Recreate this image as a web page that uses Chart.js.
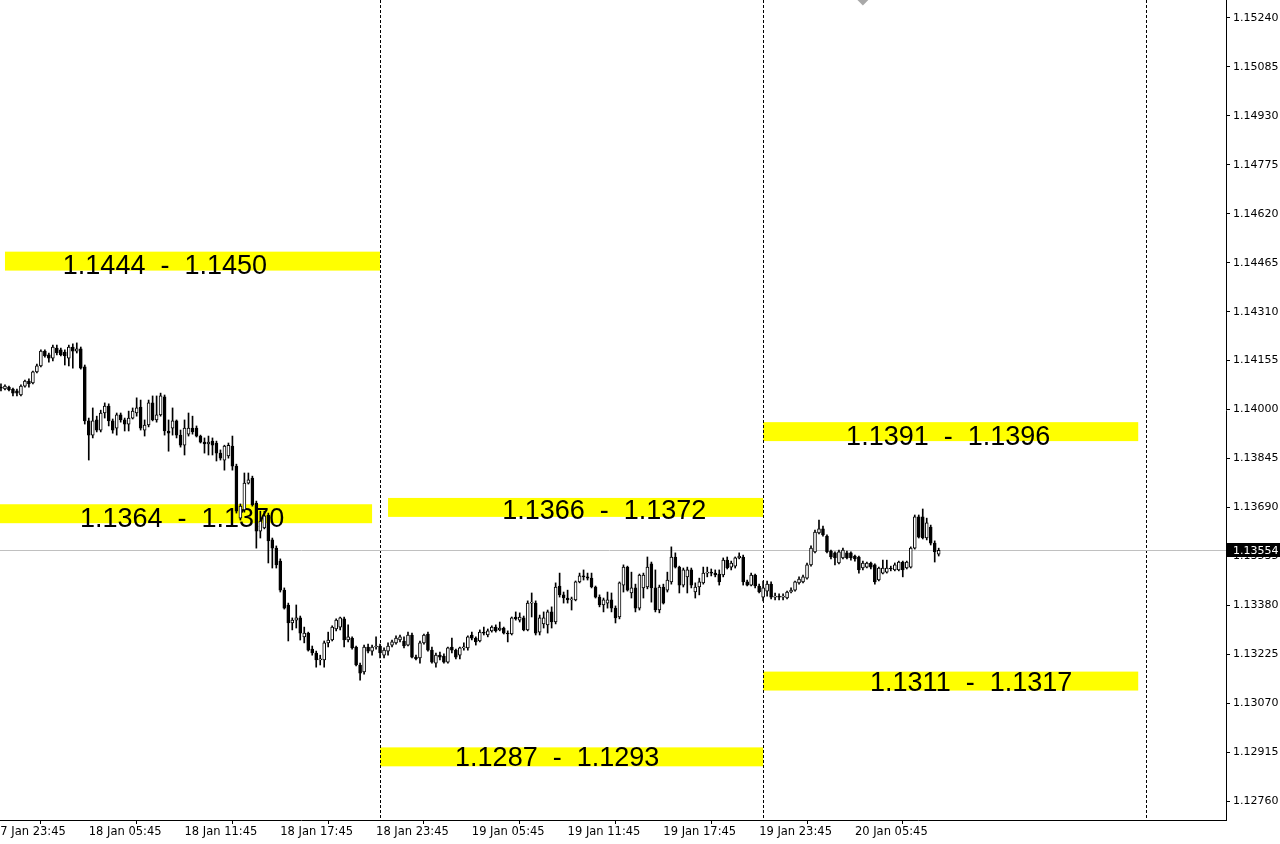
<!DOCTYPE html>
<html>
<head>
<meta charset="utf-8">
<title>EURUSD M15</title>
<script src="https://cdn.jsdelivr.net/npm/chart.js@4.4.1/dist/chart.umd.min.js"></script>
<style>
  html, body { margin: 0; padding: 0; background: #fff; overflow: hidden; }
  #wrap { position: relative; width: 1280px; height: 844px; overflow: hidden; }
  #chart { position: absolute; left: -7px; top: 0; }
</style>
</head>
<body>
<div id="wrap"><canvas id="chart" width="1287" height="844"></canvas></div>
<script>
// 15 minute bars, index 0 = 17 Jan 23:45
var opens = [
  1.14068,1.14071,1.14071,1.14065,1.14071,1.14065,1.14059,1.14046,1.14074,1.14090,
  1.14084,1.14119,1.14138,1.14185,1.14173,1.14163,1.14195,1.14189,1.14182,1.14163,
  1.14198,1.14185,1.14192,1.14135,1.13964,1.13919,1.13967,1.13935,1.13989,1.14011,
  1.13964,1.13941,1.13983,1.13967,1.13954,1.13973,1.13989,1.14008,1.13935,1.13951,
  1.14021,1.13967,1.13983,1.14040,1.13932,1.13941,1.13964,1.13919,1.13887,1.13922,
  1.13941,1.13941,1.13916,1.13897,1.13891,1.13900,1.13894,1.13862,1.13840,1.13853,
  1.13884,1.13821,1.13656,1.13682,1.13767,1.13783,1.13704,1.13615,1.13625,1.13666,
  1.13587,1.13561,1.13520,1.13428,1.13381,1.13324,1.13333,1.13340,1.13280,1.13292,
  1.13241,1.13229,1.13207,1.13207,1.13261,1.13270,1.13305,1.13311,1.13337,1.13270,
  1.13276,1.13248,1.13191,1.13169,1.13248,1.13235,1.13248,1.13251,1.13222,1.13235,
  1.13254,1.13261,1.13270,1.13267,1.13254,1.13286,1.13216,1.13213,1.13261,1.13289,
  1.13238,1.13197,1.13222,1.13219,1.13200,1.13248,1.13238,1.13222,1.13245,1.13245,
  1.13286,1.13276,1.13267,1.13295,1.13286,1.13299,1.13311,1.13302,1.13308,1.13292,
  1.13289,1.13343,1.13333,1.13340,1.13302,1.13387,1.13387,1.13295,1.13321,1.13318,
  1.13359,1.13327,1.13441,1.13413,1.13403,1.13397,1.13397,1.13454,1.13473,1.13470,
  1.13466,1.13438,1.13406,1.13381,1.13387,1.13397,1.13371,1.13343,1.13444,1.13501,
  1.13419,1.13435,1.13371,1.13435,1.13438,1.13511,1.13435,1.13365,1.13438,1.13428,
  1.13454,1.13533,1.13501,1.13444,1.13470,1.13492,1.13422,1.13438,1.13451,1.13482,
  1.13485,1.13482,1.13479,1.13476,1.13523,1.13501,1.13504,1.13530,1.13533,1.13454,
  1.13444,1.13476,1.13441,1.13406,1.13425,1.13447,1.13406,1.13409,1.13406,1.13403,
  1.13422,1.13428,1.13451,1.13454,1.13466,1.13508,1.13549,1.13609,1.13622,1.13599,
  1.13552,1.13546,1.13514,1.13530,1.13546,1.13546,1.13536,1.13533,1.13498,1.13501,
  1.13514,1.13508,1.13460,1.13482,1.13485,1.13498,1.13492,1.13492,1.13517,1.13498,
  1.13501,1.13561,1.13660,1.13660,1.13593,1.13628,1.13577,1.13542
];
var highs = [
  1.14078,1.14078,1.14081,1.14078,1.14074,1.14068,1.14065,1.14078,1.14093,1.14097,
  1.14122,1.14144,1.14189,1.14189,1.14179,1.14204,1.14204,1.14195,1.14189,1.14204,
  1.14208,1.14211,1.14198,1.14141,1.13973,1.14005,1.13979,1.13998,1.14021,1.14018,
  1.13970,1.13989,1.13989,1.13973,1.13995,1.14005,1.14037,1.14030,1.13967,1.14030,
  1.14043,1.14043,1.14052,1.14046,1.13967,1.14005,1.13967,1.13935,1.13967,1.13989,
  1.13979,1.13948,1.13919,1.13910,1.13916,1.13910,1.13900,1.13872,1.13887,1.13894,
  1.13916,1.13827,1.13701,1.13799,1.13799,1.13789,1.13710,1.13678,1.13678,1.13672,
  1.13593,1.13568,1.13527,1.13435,1.13387,1.13340,1.13381,1.13346,1.13311,1.13295,
  1.13251,1.13235,1.13222,1.13267,1.13295,1.13315,1.13337,1.13343,1.13343,1.13318,
  1.13280,1.13251,1.13197,1.13254,1.13257,1.13254,1.13280,1.13257,1.13245,1.13261,
  1.13270,1.13283,1.13286,1.13280,1.13295,1.13292,1.13222,1.13267,1.13289,1.13295,
  1.13248,1.13229,1.13232,1.13226,1.13248,1.13276,1.13241,1.13248,1.13261,1.13283,
  1.13295,1.13280,1.13302,1.13311,1.13305,1.13315,1.13318,1.13327,1.13311,1.13299,
  1.13343,1.13359,1.13356,1.13346,1.13394,1.13419,1.13394,1.13349,1.13359,1.13365,
  1.13375,1.13451,1.13482,1.13422,1.13428,1.13406,1.13457,1.13482,1.13492,1.13482,
  1.13482,1.13441,1.13413,1.13403,1.13422,1.13419,1.13378,1.13454,1.13508,1.13504,
  1.13485,1.13447,1.13479,1.13482,1.13533,1.13517,1.13492,1.13444,1.13447,1.13485,
  1.13565,1.13546,1.13504,1.13498,1.13501,1.13498,1.13451,1.13466,1.13501,1.13501,
  1.13495,1.13492,1.13492,1.13530,1.13533,1.13520,1.13533,1.13546,1.13539,1.13460,
  1.13482,1.13479,1.13447,1.13457,1.13457,1.13454,1.13419,1.13416,1.13416,1.13425,
  1.13435,1.13457,1.13470,1.13476,1.13514,1.13568,1.13618,1.13650,1.13631,1.13603,
  1.13555,1.13549,1.13555,1.13561,1.13552,1.13549,1.13539,1.13536,1.13520,1.13517,
  1.13517,1.13511,1.13501,1.13523,1.13523,1.13504,1.13514,1.13520,1.13520,1.13520,
  1.13565,1.13666,1.13666,1.13685,1.13656,1.13634,1.13584,1.13561
];
var lows = [
  1.14062,1.14062,1.14059,1.14062,1.14059,1.14043,1.14043,1.14043,1.14071,1.14071,
  1.14081,1.14116,1.14135,1.14166,1.14150,1.14154,1.14173,1.14170,1.14141,1.14138,
  1.14131,1.14179,1.14128,1.13954,1.13840,1.13910,1.13929,1.13929,1.13973,1.13948,
  1.13925,1.13919,1.13960,1.13932,1.13932,1.13970,1.13979,1.13935,1.13916,1.13945,
  1.13964,1.13960,1.13979,1.13919,1.13868,1.13919,1.13910,1.13881,1.13856,1.13916,
  1.13922,1.13913,1.13894,1.13862,1.13856,1.13856,1.13837,1.13840,1.13808,1.13846,
  1.13808,1.13672,1.13650,1.13675,1.13764,1.13694,1.13561,1.13593,1.13622,1.13514,
  1.13498,1.13498,1.13422,1.13368,1.13267,1.13302,1.13308,1.13270,1.13261,1.13235,
  1.13222,1.13184,1.13191,1.13184,1.13248,1.13267,1.13299,1.13302,1.13248,1.13264,
  1.13241,1.13188,1.13143,1.13162,1.13229,1.13222,1.13241,1.13213,1.13213,1.13222,
  1.13248,1.13257,1.13264,1.13245,1.13251,1.13213,1.13207,1.13197,1.13257,1.13235,
  1.13197,1.13184,1.13207,1.13197,1.13197,1.13229,1.13210,1.13210,1.13238,1.13238,
  1.13270,1.13254,1.13264,1.13286,1.13280,1.13295,1.13295,1.13299,1.13289,1.13264,
  1.13286,1.13333,1.13327,1.13299,1.13299,1.13343,1.13286,1.13286,1.13308,1.13292,
  1.13308,1.13321,1.13406,1.13387,1.13387,1.13365,1.13394,1.13451,1.13460,1.13460,
  1.13435,1.13403,1.13375,1.13359,1.13371,1.13359,1.13324,1.13337,1.13422,1.13425,
  1.13403,1.13359,1.13365,1.13403,1.13432,1.13390,1.13359,1.13356,1.13384,1.13422,
  1.13447,1.13498,1.13419,1.13438,1.13419,1.13435,1.13403,1.13413,1.13447,1.13470,
  1.13473,1.13470,1.13444,1.13470,1.13495,1.13492,1.13498,1.13527,1.13444,1.13441,
  1.13441,1.13435,1.13419,1.13394,1.13409,1.13400,1.13397,1.13397,1.13397,1.13400,
  1.13419,1.13425,1.13447,1.13451,1.13463,1.13504,1.13546,1.13606,1.13599,1.13546,
  1.13527,1.13508,1.13511,1.13527,1.13527,1.13523,1.13520,1.13482,1.13492,1.13498,
  1.13495,1.13447,1.13457,1.13479,1.13482,1.13489,1.13489,1.13489,1.13470,1.13495,
  1.13498,1.13558,1.13593,1.13590,1.13587,1.13571,1.13517,1.13536
];
var closes = [
  1.14071,1.14068,1.14068,1.14074,1.14062,1.14052,1.14052,1.14074,1.14090,1.14081,
  1.14119,1.14138,1.14185,1.14170,1.14163,1.14198,1.14179,1.14173,1.14170,1.14198,
  1.14185,1.14192,1.14131,1.13964,1.13919,1.13964,1.13935,1.13989,1.14011,1.13964,
  1.13935,1.13983,1.13967,1.13954,1.13973,1.13995,1.14005,1.13941,1.13951,1.14021,
  1.13967,1.13983,1.14043,1.13932,1.13925,1.13964,1.13919,1.13887,1.13941,1.13941,
  1.13929,1.13916,1.13897,1.13891,1.13897,1.13887,1.13862,1.13846,1.13884,1.13887,
  1.13821,1.13678,1.13694,1.13767,1.13777,1.13698,1.13615,1.13647,1.13663,1.13584,
  1.13561,1.13508,1.13428,1.13371,1.13324,1.13333,1.13340,1.13292,1.13292,1.13238,
  1.13229,1.13207,1.13210,1.13261,1.13270,1.13311,1.13333,1.13340,1.13270,1.13280,
  1.13245,1.13191,1.13165,1.13248,1.13235,1.13248,1.13251,1.13229,1.13238,1.13251,
  1.13264,1.13276,1.13280,1.13251,1.13286,1.13216,1.13210,1.13261,1.13286,1.13238,
  1.13200,1.13222,1.13216,1.13200,1.13245,1.13238,1.13216,1.13245,1.13248,1.13280,
  1.13276,1.13264,1.13295,1.13292,1.13299,1.13311,1.13299,1.13308,1.13292,1.13289,
  1.13340,1.13337,1.13343,1.13302,1.13387,1.13390,1.13292,1.13340,1.13340,1.13359,
  1.13327,1.13438,1.13413,1.13403,1.13397,1.13400,1.13454,1.13473,1.13470,1.13466,
  1.13438,1.13406,1.13381,1.13397,1.13397,1.13371,1.13340,1.13451,1.13501,1.13428,
  1.13435,1.13371,1.13476,1.13476,1.13501,1.13435,1.13365,1.13438,1.13387,1.13460,
  1.13533,1.13501,1.13444,1.13492,1.13492,1.13444,1.13438,1.13454,1.13482,1.13485,
  1.13482,1.13476,1.13454,1.13523,1.13498,1.13514,1.13530,1.13536,1.13454,1.13444,
  1.13476,1.13441,1.13422,1.13435,1.13447,1.13406,1.13409,1.13406,1.13409,1.13422,
  1.13428,1.13454,1.13463,1.13470,1.13508,1.13561,1.13612,1.13622,1.13603,1.13549,
  1.13533,1.13530,1.13549,1.13555,1.13530,1.13530,1.13527,1.13492,1.13514,1.13514,
  1.13501,1.13454,1.13498,1.13498,1.13498,1.13495,1.13508,1.13517,1.13492,1.13517,
  1.13561,1.13660,1.13596,1.13593,1.13641,1.13577,1.13549,1.13554
];

var lastPrice = 1.13554;

// axis
var barCount = 310;
var priceMin = 1.12700, priceMax = 1.15297;
var priceTicks = [1.12760, 1.12915, 1.13070, 1.13225, 1.13380, 1.13535, 1.13690, 1.13845, 1.14000,
                  1.14155, 1.14310, 1.14465, 1.14620, 1.14775, 1.14930, 1.15085, 1.15240];
var timeTickIdx = [0, 24, 48, 72, 96, 120, 144, 168, 192, 216];
var timeTickLabels = ['17 Jan 23:45', '18 Jan 05:45', '18 Jan 11:45', '18 Jan 17:45', '18 Jan 23:45',
                      '19 Jan 05:45', '19 Jan 11:45', '19 Jan 17:45', '19 Jan 23:45', '20 Jan 05:45'];
var daySeparators = [97, 193, 289];

// zones (bar index from/to, price low/high)
var zoneFrom = [3, 0, 99, 193, 193, 97];
var zoneTo = [97, 95, 193, 287, 287, 193];
var zoneLow = [1.1444, 1.1364, 1.1366, 1.1390, 1.1311, 1.1287];
var zoneHigh = [1.1450, 1.1370, 1.1372, 1.1396, 1.1317, 1.1293];
var zoneText = ['1.1444  -  1.1450', '1.1364  -  1.1370', '1.1366  -  1.1372',
                '1.1391  -  1.1396', '1.1311  -  1.1317', '1.1287  -  1.1293'];
var zoneTextBar = [17.5, 21.8, 127.6, 213.8, 219.8, 115.8];
var zoneTextPrice = [1.14452, 1.13653, 1.13676, 1.13912, 1.13131, 1.12896];

// arrow object above the visible range
var markerBar = [218];
var markerPrice = [1.15302];

var bodies = [], wicks = [], bodyColors = [];
for (var i = 0; i < closes.length; i++) {
  bodies.push({ x: i, y: [opens[i], closes[i]] });
  wicks.push({ x: i, y: [lows[i], highs[i]] });
  bodyColors.push(closes[i] > opens[i] ? '#ffffff' : '#000000');
}
var markers = markerBar.map(function (b, k) { return { x: b, y: markerPrice[k] }; });

var overlay = {
  id: 'overlay',
  beforeDatasetsDraw: function (chart) {
    var c = chart.ctx, xs = chart.scales.x, ys = chart.scales.y, a = chart.chartArea;
    c.save();
    c.beginPath();
    c.rect(a.left, a.top, a.right - a.left, a.bottom - a.top);
    c.clip();

    c.fillStyle = '#ffff00';
    for (var k = 0; k < zoneFrom.length; k++) {
      var x1 = xs.getPixelForValue(zoneFrom[k]), x2 = xs.getPixelForValue(zoneTo[k]);
      var y1 = ys.getPixelForValue(zoneHigh[k]), y2 = ys.getPixelForValue(zoneLow[k]);
      c.fillRect(x1, y1, x2 - x1, y2 - y1);
    }

    c.strokeStyle = '#000';
    c.lineWidth = 1;
    c.setLineDash([3, 2]);
    daySeparators.forEach(function (d) {
      var px = Math.round(xs.getPixelForValue(d)) + 0.5;
      c.beginPath();
      c.moveTo(px, a.top);
      c.lineTo(px, a.bottom);
      c.stroke();
    });
    c.setLineDash([]);

    var py = Math.round(ys.getPixelForValue(lastPrice)) + 0.5;
    c.strokeStyle = '#c0c0c0';
    c.beginPath();
    c.moveTo(a.left, py);
    c.lineTo(a.right, py);
    c.stroke();

    c.fillStyle = '#000';
    c.font = '27px "Liberation Sans", Arial, sans-serif';
    c.textBaseline = 'middle';
    c.textAlign = 'left';
    for (var t = 0; t < zoneText.length; t++) {
      c.fillText(zoneText[t], xs.getPixelForValue(zoneTextBar[t]), ys.getPixelForValue(zoneTextPrice[t]));
    }
    c.restore();
  },
  afterDraw: function (chart) {
    var c = chart.ctx, ys = chart.scales.y, a = chart.chartArea;
    var py = Math.round(ys.getPixelForValue(lastPrice));
    c.save();
    c.fillStyle = '#000';
    c.fillRect(a.right + 1, py - 7, chart.width - a.right - 1, 14);
    c.fillStyle = '#fff';
    c.font = '11px "DejaVu Sans", sans-serif';
    c.textBaseline = 'middle';
    c.textAlign = 'left';
    c.fillText(lastPrice.toFixed(5), a.right + 7, py + 1);
    c.restore();
  }
};

new Chart(document.getElementById('chart'), {
  type: 'bar',
  data: {
    datasets: [{
      type: 'bar',
      data: bodies,
      backgroundColor: bodyColors,
      borderColor: '#000',
      borderWidth: 1,
      borderSkipped: false,
      barThickness: 3,
      minBarLength: 1,
      grouped: false,
      order: 0
    }, {
      type: 'bar',
      data: wicks,
      backgroundColor: '#000',
      borderWidth: 0,
      barThickness: 1,
      grouped: false,
      order: 1
    }, {
      type: 'scatter',
      data: markers,
      pointStyle: 'rectRot',
      pointRadius: 7,
      backgroundColor: '#a8a8a8',
      borderWidth: 0,
      order: 2
    }]
  },
  options: {
    responsive: false,
    devicePixelRatio: 1,
    animation: false,
    layout: { padding: 0, autoPadding: false },
    plugins: { legend: { display: false }, tooltip: { enabled: false } },
    scales: {
      x: {
        type: 'linear',
        position: 'bottom',
        min: 0,
        max: barCount - 1,
        bounds: 'data',
        offset: false,
        grid: { drawOnChartArea: false, drawTicks: true, tickLength: 4, color: '#000' },
        border: { color: '#000' },
        ticks: {
          align: 'start',
          autoSkip: false,
          maxRotation: 0,
          padding: 1,
          color: '#000',
          font: { family: '"DejaVu Sans", sans-serif', size: 11.5 },
          callback: function (v) {
            var k = timeTickIdx.indexOf(v);
            return k >= 0 ? timeTickLabels[k] : '';
          }
        },
        afterBuildTicks: function (s) {
          s.ticks = timeTickIdx.map(function (v) { return { value: v }; });
        },
        afterFit: function (s) {
          s.height = 24;
          s.paddingLeft = 0;
          s.paddingRight = 0;
        }
      },
      y: {
        type: 'linear',
        position: 'right',
        min: priceMin,
        max: priceMax,
        bounds: 'data',
        grid: { drawOnChartArea: false, drawTicks: true, tickLength: 4, color: '#000' },
        border: { color: '#000' },
        ticks: {
          padding: 3,
          color: '#000',
          font: { family: '"DejaVu Sans", sans-serif', size: 11 },
          callback: function (v) { return v.toFixed(5); }
        },
        afterBuildTicks: function (s) {
          s.ticks = priceTicks.map(function (v) { return { value: v }; });
        },
        afterFit: function (s) {
          s.width = 54;
          s.paddingTop = 0;
          s.paddingBottom = 0;
        }
      }
    }
  },
  plugins: [overlay]
});
</script>
</body>
</html>
